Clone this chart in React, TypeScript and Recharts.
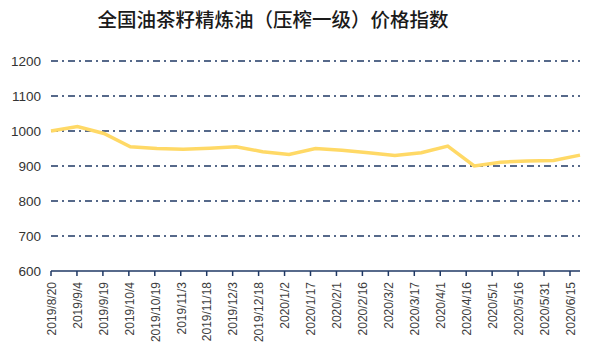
import React from 'react';
import { LineChart, Line, XAxis, YAxis, CartesianGrid } from 'recharts';

const dates = [
  '2019/8/20', '2019/9/4', '2019/9/19', '2019/10/4', '2019/10/19', '2019/11/3',
  '2019/11/18', '2019/12/3', '2019/12/18', '2020/1/2', '2020/1/17', '2020/2/1',
  '2020/2/16', '2020/3/2', '2020/3/17', '2020/4/1', '2020/4/16', '2020/5/1',
  '2020/5/16', '2020/5/31', '2020/6/15',
];
const priceIndex = [
  1000, 1013, 993, 955, 950, 948, 951, 955, 941, 933, 950, 945,
  938, 930, 938, 957, 900, 911, 914, 916, 931,
];
const yTicks = [600, 700, 800, 900, 1000, 1100, 1200];
const gridValues = [700, 800, 900, 1000, 1100, 1200];
const title = '全国油茶籽精炼油（压榨一级）价格指数';

const data = dates.map((d, i) => ({ date: d, value: priceIndex[i] }));

const NAVY = '#1F3864';
const FONT = '"Liberation Sans", Arial, sans-serif';

const XTick = (props: any) => {
  const { x, y, payload } = props;
  return (
    <text
      x={x}
      y={y}
      transform={`rotate(-90, ${x}, ${y})`}
      textAnchor="end"
      dy="0.4em"
      fontSize={12}
      fontFamily={FONT}
      fill="#404040"
    >
      {payload.value}
    </text>
  );
};

export default function App() {
  return (
    <div style={{ position: 'absolute', left: 0, top: 0, width: 600, height: 355, background: '#fff' }}>
      <div
        style={{
          position: 'absolute',
          left: 0,
          width: 546,
          top: 6,
          textAlign: 'center',
          fontFamily: '"Noto Sans CJK SC", sans-serif',
          fontSize: 19.5,
          fontWeight: 500,
          color: '#1a1a1a',
          lineHeight: '26px',
        }}
      >
        {title}
      </div>
      <LineChart
        width={600}
        height={355}
        data={data}
        margin={{ top: 61, right: 20, bottom: 9, left: 0 }}
      >
        <CartesianGrid
          xAxisId="cat"
          vertical={false}
          horizontalValues={gridValues}
          stroke={NAVY}
          strokeWidth={1.5}
          strokeDasharray="7 4 2 4"
        />
        <XAxis
          xAxisId="cat"
          dataKey="date"
          interval={0}
          height={75}
          padding={{ left: 0, right: 10 }}
          axisLine={{ stroke: NAVY, strokeWidth: 1.5 }}
          tickLine={{ stroke: NAVY, strokeWidth: 1.5 }}
          tickSize={5}
          tickMargin={6}
          tick={<XTick />}
        />
        <XAxis xAxisId="pts" dataKey="date" hide />
        <YAxis
          domain={[600, 1200]}
          ticks={yTicks}
          width={51}
          axisLine={false}
          tickLine={false}
          tickMargin={4}
          interval={0}
          tick={{ fontSize: 13.5, fill: '#333', fontFamily: FONT }}
        />
        <Line
          xAxisId="pts"
          type="linear"
          dataKey="value"
          stroke="#FFD966"
          strokeWidth={3.5}
          dot={false}
          isAnimationActive={false}
        />
      </LineChart>
    </div>
  );
}
